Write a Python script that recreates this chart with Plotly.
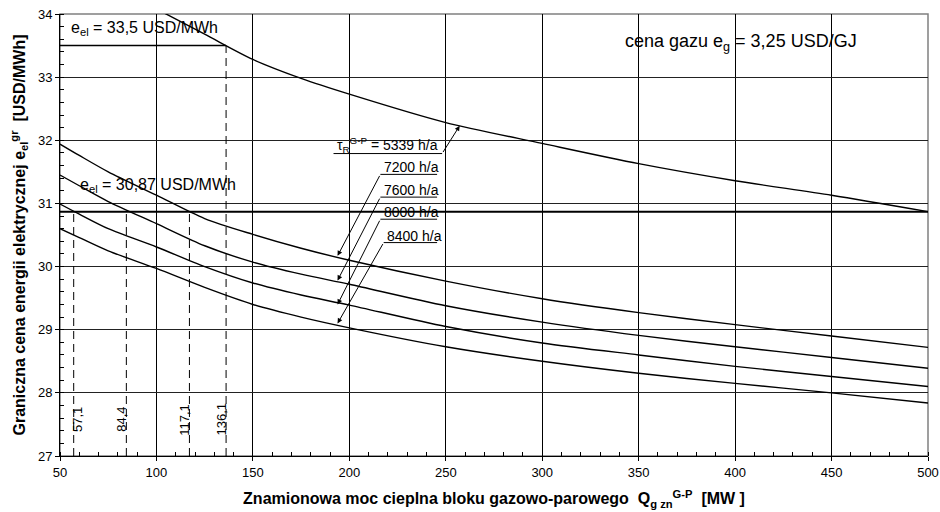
import plotly.graph_objects as go

# ---- data ----
x_top = [100, 125, 150, 175, 200, 250, 300, 350, 400, 450, 500]
y_5339 = [34.08, 33.68, 33.28, 32.98, 32.73, 32.28, 31.95, 31.63, 31.36, 31.13, 30.87]

x_low = [50, 60, 75, 100, 125, 150, 175, 200, 250, 300, 350, 400, 450, 500]
y_7200 = [31.94, 31.76, 31.50, 31.13, 30.76, 30.51, 30.29, 30.10, 29.77, 29.49, 29.27, 29.08, 28.90, 28.72]
y_7600 = [31.45, 31.28, 31.03, 30.68, 30.33, 30.07, 29.88, 29.72, 29.38, 29.12, 28.91, 28.73, 28.56, 28.39]
y_8000 = [30.99, 30.83, 30.60, 30.31, 30.00, 29.74, 29.55, 29.39, 29.05, 28.79, 28.60, 28.42, 28.26, 28.10]
y_8400 = [30.60, 30.46, 30.25, 29.97, 29.67, 29.40, 29.20, 29.03, 28.73, 28.50, 28.31, 28.15, 28.00, 27.84]

e_el_levels = [33.5, 30.87]
e_el_labels = ["e<sub>el</sub> = 33,5 USD/MWh", "e<sub>el</sub> = 30,87 USD/MWh"]
cross_x = [57.1, 84.4, 117.1, 136.1]
cross_y = [30.87, 30.87, 30.87, 33.5]
cross_labels = ["57,1", "84,4", "117,1", "136,1"]

x_ticks = [50, 100, 150, 200, 250, 300, 350, 400, 450, 500]
y_ticks = [27, 28, 29, 30, 31, 32, 33, 34]

tau_labels = ["τ<sub>R</sub><sup>G-P</sup> = 5339 h/a", "7200 h/a", "7600 h/a", "8000 h/a", "8400 h/a"]

FONT = "Arial, Liberation Sans, sans-serif"

fig = go.Figure()

curve_style = dict(mode="lines", line=dict(color="black", width=1.4, shape="spline", smoothing=0.8),
                   hoverinfo="skip", showlegend=False)
fig.add_trace(go.Scatter(x=x_top, y=y_5339, **curve_style))
for ys in [y_7200, y_7600, y_8000, y_8400]:
    fig.add_trace(go.Scatter(x=x_low, y=ys, **curve_style))

# horizontal e_el lines
fig.add_trace(go.Scatter(x=[x_low[0], cross_x[3]], y=[e_el_levels[0]] * 2, mode="lines",
                         line=dict(color="black", width=1.5), showlegend=False, hoverinfo="skip"))
fig.add_trace(go.Scatter(x=[x_low[0], x_low[-1]], y=[e_el_levels[1]] * 2, mode="lines",
                         line=dict(color="black", width=2), showlegend=False, hoverinfo="skip"))

# dashed verticals
for cx, cy in zip(cross_x, cross_y):
    fig.add_trace(go.Scatter(x=[cx, cx], y=[y_ticks[0], cy], mode="lines",
                             line=dict(color="black", width=1, dash="8px,5px"),
                             showlegend=False, hoverinfo="skip"))

annotations = []
# e_el labels
annotations.append(dict(x=54.5, y=33.77, xref="x", yref="y", text=e_el_labels[0], showarrow=False,
                        xanchor="left", yanchor="middle", font=dict(size=16, color="black", family=FONT)))
annotations.append(dict(x=59.5, y=31.28, xref="x", yref="y", text=e_el_labels[1], showarrow=False,
                        xanchor="left", yanchor="middle", font=dict(size=16, color="black", family=FONT)))
# gas price
annotations.append(dict(x=342, y=33.55, xref="x", yref="y", text="cena gazu e<sub>g</sub> = 3,25 USD/GJ",
                        showarrow=False, xanchor="left", yanchor="middle",
                        font=dict(size=18, color="black", family=FONT)))
# crossing labels
for i, (cx, lab) in enumerate(zip(cross_x, cross_labels)):
    annotations.append(dict(x=cx, y=27.58, xref="x", yref="y", text=lab, showarrow=False, textangle=-90,
                            xshift=(4 if i == 0 else -5), font=dict(size=13, color="black", family=FONT)))

# tau labels: underline + leader arrow
under_y = [31.79, 31.46, 31.10, 30.75, 30.38]
under_x0 = [191.8, 216.1, 216.1, 216.1, 217.8]
under_x1 = [248.1, 245.5, 245.5, 245.5, 245.5]
tip_x = [257.2, 193.9, 193.9, 193.9, 193.9]
tip_y = [32.23, 30.17, 29.78, 29.40, 29.10]
shapes = []
for k in range(5):
    shapes.append(dict(type="line", xref="x", yref="y", x0=under_x0[k], x1=under_x1[k],
                       y0=under_y[k], y1=under_y[k], line=dict(color="black", width=1)))
    tail_x = under_x1[k] if k == 0 else under_x0[k]
    annotations.append(dict(x=tip_x[k], y=tip_y[k], ax=tail_x, ay=under_y[k], xref="x", yref="y",
                            axref="x", ayref="y", text="", showarrow=True, arrowhead=2, arrowsize=1,
                            arrowwidth=1, arrowcolor="black", standoff=0, startstandoff=0))
    annotations.append(dict(x=under_x0[k] + (1.0 if k == 0 else 0.8), y=under_y[k], xref="x", yref="y",
                            text=tau_labels[k], showarrow=False, xanchor="left", yanchor="bottom",
                            yshift=-3, font=dict(size=14, color="black", family=FONT)))

# plot-area border (grey, like the original)
shapes.append(dict(type="rect", xref="paper", yref="paper", x0=0, x1=1, y0=0, y1=1,
                   line=dict(color="#808080", width=1.5), layer="below"))

fig.update_layout(
    width=940, height=512,
    margin=dict(l=60, r=12, t=14, b=56, autoexpand=False),
    paper_bgcolor="white", plot_bgcolor="white",
    font=dict(family=FONT, size=13, color="black"),
    showlegend=False,
    annotations=annotations,
    shapes=shapes,
    xaxis=dict(range=[50, 500], tickvals=x_ticks, showgrid=True, gridcolor="black", gridwidth=1,
               showline=True, linecolor="black", linewidth=1, ticks="outside", ticklen=4,
               tickcolor="black", zeroline=False, tickfont=dict(size=13), automargin=False,
               minor=dict(dtick=10, tick0=50, ticks="inside", ticklen=4, tickcolor="black", showgrid=False),
               title=dict(text="<b>Znamionowa moc cieplna bloku gazowo-parowego  Q<sub>g zn</sub><sup>G-P</sup>  [MW ]</b>",
                          font=dict(size=16, family=FONT), standoff=14)),
    yaxis=dict(range=[27, 34], tickvals=y_ticks, showgrid=True, gridcolor="#222", gridwidth=1,
               showline=True, linecolor="black", linewidth=1, ticks="outside", ticklen=4,
               tickcolor="black", zeroline=False, tickfont=dict(size=13), automargin=False,
               minor=dict(dtick=0.2, tick0=27, ticks="inside", ticklen=4, tickcolor="black", showgrid=False),
               title=dict(text="<b>Graniczna cena energii elektrycznej e<sub>el</sub><sup>gr</sup>  [USD/MWh]</b>",
                          font=dict(size=16, family=FONT), standoff=8)),
)

fig.write_html("out.html")
